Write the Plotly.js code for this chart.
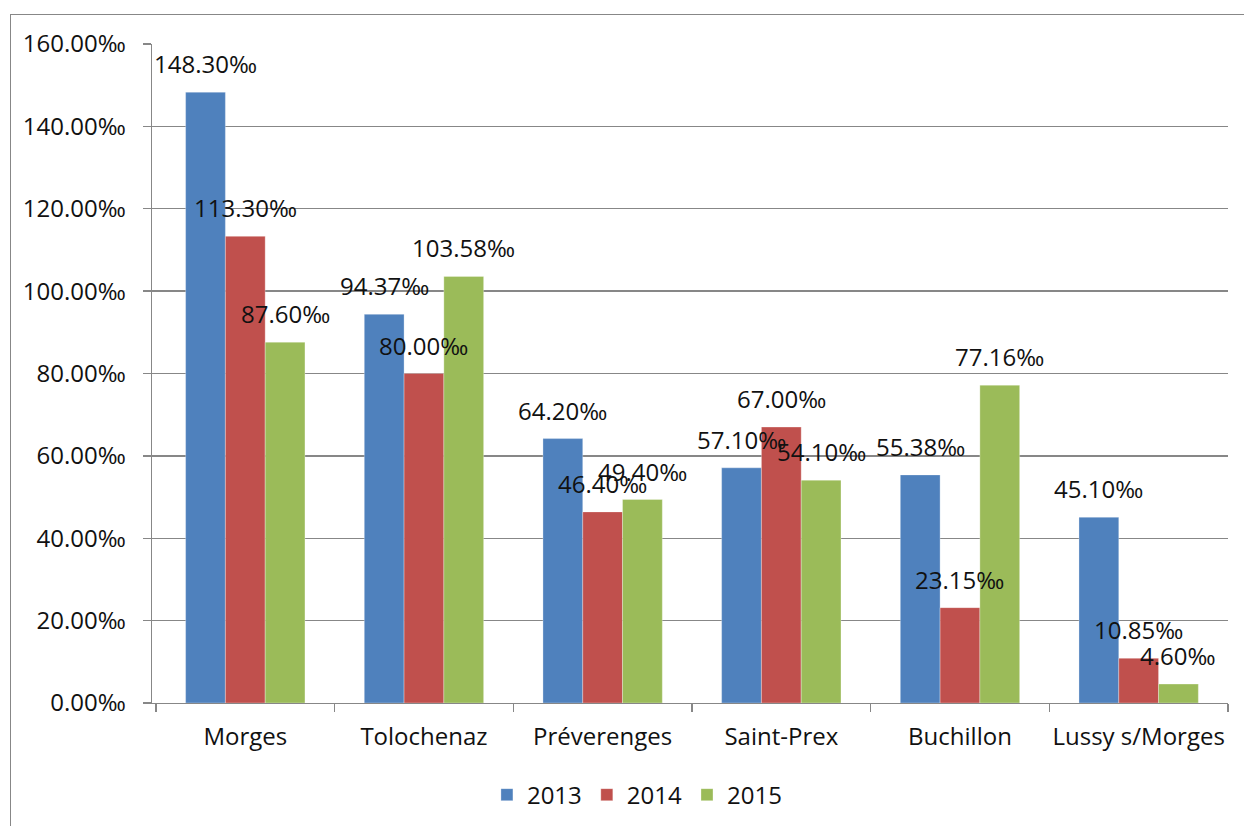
<!DOCTYPE html>
<html>
<head>
<meta charset="utf-8">
<script src="https://cdn.plot.ly/plotly-3.0.1.min.js"></script>
<style>
html,body{margin:0;padding:0;background:#fff;overflow:hidden;width:1244px;height:826px;}
#frame{position:absolute;left:10px;top:14px;width:1300px;height:900px;border:1.3px solid #878787;box-sizing:border-box;}
#chart{position:absolute;left:0;top:0;width:1244px;height:826px;}
</style>
</head>
<body>
<div id="frame"></div>
<div id="chart"></div>
<script>
const categories = ["Morges", "Tolochenaz", "Préverenges", "Saint-Prex", "Buchillon", "Lussy s/Morges"];
const seriesNames = ["2013", "2014", "2015"];
const values2013 = [148.30, 94.37, 64.20, 57.10, 55.38, 45.10];
const values2014 = [113.30, 80.00, 46.40, 67.00, 23.15, 10.85];
const values2015 = [87.60, 103.58, 49.40, 54.10, 77.16, 4.60];
const yTickValues = [0, 20, 40, 60, 80, 100, 120, 140, 160];
const yTickLabels = ["0.00‰", "20.00‰", "40.00‰", "60.00‰", "80.00‰", "100.00‰", "120.00‰", "140.00‰", "160.00‰"];

const colors = ["#4F81BD", "#C0504D", "#9BBB59"];
const allValues = [values2013, values2014, values2015];
const font = "Open Sans, Noto Sans, sans-serif";
const fs = 24;
const bargap = 0.332;
const barW = (1 - bargap) / 3;

const traces = allValues.map((vals, j) => ({
  type: "bar",
  name: seriesNames[j],
  x: categories,
  y: vals,
  marker: {color: colors[j], line: {width: 0.6, color: "rgba(255,255,255,0.5)"}},
  hoverinfo: "skip"
}));

const annotations = [];
allValues.forEach((vals, j) => {
  vals.forEach((v, i) => {
    annotations.push({
      x: i + (j - 1) * barW,
      y: v,
      xref: "x", yref: "y",
      text: v.toFixed(2) + "‰",
      showarrow: false,
      xanchor: "center",
      yanchor: "bottom",
      yshift: 10,
      font: {family: font, size: fs, color: "#111"}
    });
  });
});

const layout = {
  width: 1244, height: 826,
  paper_bgcolor: "rgba(0,0,0,0)",
  plot_bgcolor: "rgba(0,0,0,0)",
  margin: {l: 152, r: 16, t: 43.5, b: 123.3, autoexpand: false},
  barmode: "group",
  bargap: bargap,
  bargroupgap: 0,
  font: {family: font, size: fs, color: "#111"},
  xaxis: {
    type: "category",
    automargin: false,
    tickson: "boundaries",
    tickangle: 0,
    ticks: "outside", ticklen: 8, tickwidth: 1.3, tickcolor: "#878787",
    showline: true, linecolor: "#878787", linewidth: 1.3,
    showgrid: false,
    ticklabelstandoff: 12,
    tickfont: {family: font, size: fs, color: "#111"}
  },
  yaxis: {
    range: [0, 160],
    automargin: false,
    tickmode: "array",
    tickvals: yTickValues,
    ticktext: yTickLabels,
    ticks: "outside", ticklen: 8, tickwidth: 1.3, tickcolor: "#878787",
    showline: true, linecolor: "#878787", linewidth: 1.3,
    showgrid: true, gridcolor: "#878787", gridwidth: 1.3,
    zeroline: false,
    ticklabelstandoff: 12,
    tickfont: {family: font, size: fs, color: "#111"}
  },
  showlegend: true,
  legend: {
    orientation: "h",
    xref: "container", yref: "container",
    x: 0.512, xanchor: "center",
    y: 0.0375, yanchor: "middle",
    font: {family: font, size: fs, color: "#111"},
    itemwidth: 30,
    traceorder: "normal"
  },
  annotations: annotations
};

Plotly.newPlot("chart", traces, layout, {staticPlot: true});
</script>
</body>
</html>
